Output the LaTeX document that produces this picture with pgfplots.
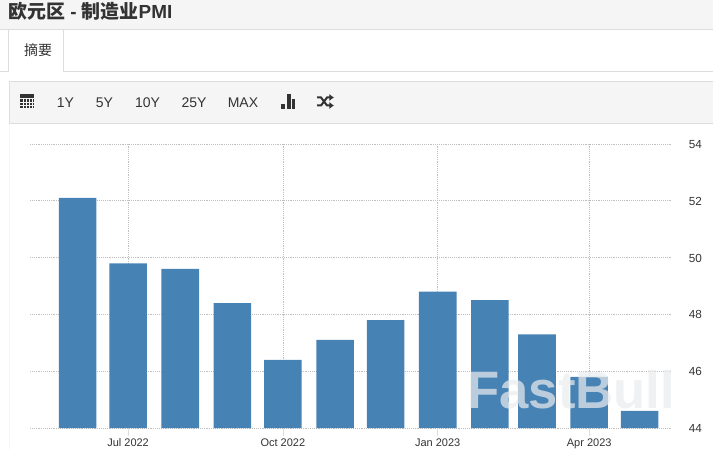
\documentclass[border=0pt]{standalone}
\usepackage{fontspec}
\setmainfont{Liberation Sans}
\newfontfamily\cjk{Noto Sans CJK SC}
\usepackage{pgfplots}
\pgfplotsset{compat=1.18}
\usetikzlibrary{arrows.meta}
\definecolor{barblue}{HTML}{4682B4}
\definecolor{panel}{HTML}{F5F5F5}
\definecolor{rule}{HTML}{DDDDDD}
\definecolor{ink}{HTML}{333333}
\definecolor{wmark}{HTML}{E9EBED}
\newcommand{\wm}{\fontsize{39.5pt}{42pt}\selectfont\bfseries FastBull}
\begin{document}
\begin{tikzpicture}[x=0.75pt,y=-0.75pt]
\useasboundingbox (0,0) rectangle (713,449);
% page chrome
\fill[panel] (0,0) rectangle (713,29);
\draw[rule,line width=0.9pt] (0,29.5) -- (713,29.5);
\draw[rule,line width=0.75pt] (0,71.5) -- (8.5,71.5) -- (8.5,29.5);
\draw[rule,line width=0.75pt] (63.5,29.5) -- (63.5,71.5) -- (713,71.5);
\fill[panel] (9.5,81.5) rectangle (713,123.5);
\draw[rule,line width=0.75pt] (713,81.5) -- (9.5,81.5) -- (9.5,123.5) -- (713,123.5);
\draw[panel,line width=0.75pt] (9.5,124) -- (9.5,449);
\node[anchor=west,inner sep=0,text=ink] at (8,11) {\fontsize{14.2pt}{15pt}\selectfont\bfseries{\cjk\bfseries 欧元区} - {\cjk\bfseries 制造业}PMI};
\node[inner sep=0,text=ink] at (38,50) {\fontsize{10.5pt}{12pt}\selectfont\cjk 摘要};
\foreach \xx/\t in {65.5/1Y,104.5/5Y,147.5/10Y,194/25Y,243/MAX}
  \node[inner sep=0,text=ink] at (\xx,102.5) {\fontsize{10.5pt}{12pt}\selectfont\t};
% calendar icon
\fill[ink] (20,94.5) rectangle (34,108.5);
\fill[panel] (20,98.4) rectangle (34,99.1);
\foreach \yy in {102,105} \fill[panel] (20,\yy) rectangle (34,\yy+0.45);
\foreach \xx in {23,26,29,32} \fill[panel] (\xx,99.1) rectangle (\xx+0.4,108);
% bar chart icon
\fill[ink] (281,104) rectangle (285,109);
\fill[ink] (286.5,94) rectangle (290.5,109);
\fill[ink] (292,99) rectangle (295,109);
% shuffle icon
\draw[ink,line width=1.5pt,-{Latex[length=3.5pt,width=5.5pt]}] (317,97.5) -- (321,97.5) -- (327,105.5) -- (334,105.5);
\draw[ink,line width=1.5pt,-{Latex[length=3.5pt,width=5.5pt]}] (317,105.5) -- (321,105.5) -- (327,97.5) -- (334,97.5);
% chart
\begin{axis}[
  at={(22.6pt,-321pt)}, anchor=south west,
  scale only axis, width=481.5pt, height=213pt,
  xmin=-58.2, xmax=323.3, ymin=44, ymax=54,
  axis line style={draw=none},
  ybar, bar width=28.2pt,
  ymajorgrids, xmajorgrids,
  grid style={densely dotted, color=black!25, line width=0.6pt},
  xtick={0,92,184,274},
  xticklabels={Jul 2022,Oct 2022,Jan 2023,Apr 2023},
  ytick={44,46,48,50,52,54},
  axis y line*=right,
  axis x line*=bottom,
  tick align=outside,
  major tick length=6pt,
  xtick style={draw=rule, line width=0.6pt},
  ytick style={draw=none},
  yticklabel style={anchor=west, xshift=3pt, yshift=-0.3pt, font=\fontsize{8.8pt}{10pt}\selectfont},
  tick label style={font=\fontsize{8.25pt}{10pt}\selectfont, text=ink},
  xticklabel style={yshift=1.5pt},
  /pgf/number format/assume math mode=true,
  clip=false,
]
\addplot[fill=barblue, draw=none, bar shift=0pt] coordinates {
 (-30,52.1) (0,49.8) (31,49.6) (62,48.4) (92,46.4) (123,47.1)
 (153,47.8) (184,48.8) (215,48.5) (243,47.3) (274,45.8) (304,44.6)};
\end{axis}
% watermark
\node[inner sep=0,anchor=west,text=wmark,opacity=0.72] at (467,390) {\wm};
\end{tikzpicture}
\end{document}
